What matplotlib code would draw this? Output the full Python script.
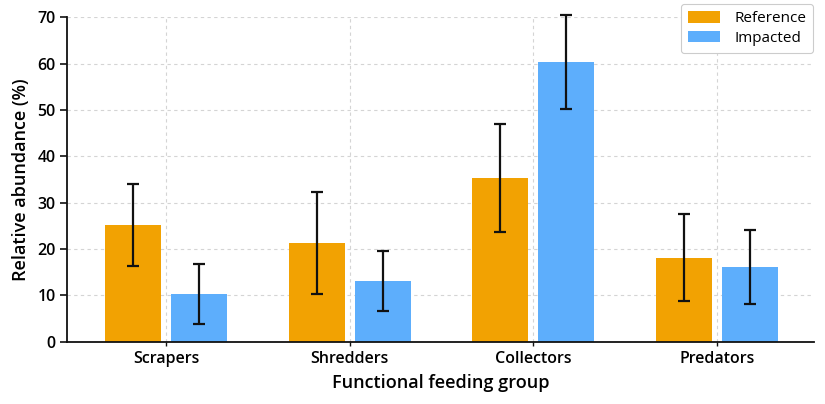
import matplotlib
matplotlib.use("Agg")
import matplotlib.pyplot as plt
import numpy as np

plt.rcParams['font.family'] = ['Open Sans', 'DejaVu Sans']

categories = ["Scrapers", "Shredders", "Collectors", "Predators"]
series_names = ["Reference", "Impacted"]
reference_vals = [25.2, 21.4, 35.3, 18.1]
reference_err = [8.8, 11.0, 11.6, 9.4]
impacted_vals = [10.3, 13.1, 60.3, 16.1]
impacted_err = [6.4, 6.5, 10.1, 7.9]
yticks = [0, 10, 20, 30, 40, 50, 60, 70]

col_ref = "#F2A202"
col_imp = "#5DAEFC"

fig = plt.figure(figsize=(8.25, 4.04), dpi=100)
ax = fig.add_axes([0.0808, 0.1542, 0.9059, 0.8029])

x = np.arange(len(categories))
off = 0.18
w = 0.305
ekw = dict(ecolor='#111111', elinewidth=1.6, capsize=4, capthick=1.6, zorder=3)
b1 = ax.bar(x - off, reference_vals, w, color=col_ref, label=series_names[0], zorder=2,
            yerr=reference_err, error_kw=ekw)
b2 = ax.bar(x + off, impacted_vals, w, color=col_imp, label=series_names[1], zorder=2,
            yerr=impacted_err, error_kw=ekw)
for cont in (b1, b2):
    for art in list(cont.errorbar.lines[1]) + list(cont.errorbar.lines[2]):
        art.set_clip_on(False)

ax.set_xlim(-0.542, 3.53)
ax.set_ylim(0, 70)
ax.set_yticks(yticks)
ax.set_xticks(x)
ax.set_xticklabels(categories, fontsize=11.5, fontweight='semibold')
for lab in ax.get_yticklabels():
    lab.set_fontsize(11.5)
    lab.set_fontweight('semibold')

ax.grid(True, linestyle=(0, (3, 3)), color='#d4d4d4', linewidth=0.8, zorder=0)
ax.set_axisbelow(True)
for s in ['top', 'right']:
    ax.spines[s].set_visible(False)
for s in ['left', 'bottom']:
    ax.spines[s].set_linewidth(1.3)
    ax.spines[s].set_color('#111111')
ax.tick_params(axis='y', length=5, width=1.2, color='#111111', pad=3)
ax.tick_params(axis='x', length=3, width=1.0, color='#111111', pad=4)

ax.set_xlabel("Functional feeding group", fontsize=13, fontweight='semibold', labelpad=5)
ax.set_ylabel("Relative abundance (%)", fontsize=13, fontweight='semibold', labelpad=5)

leg = ax.legend(loc='upper right', bbox_to_anchor=(813/825, 1 - 4/404), bbox_transform=fig.transFigure,
                borderaxespad=0, fontsize=11, frameon=True, fancybox=True, framealpha=1, edgecolor='#cccccc',
                handlelength=2.1, handleheight=0.8, borderpad=0.45, labelspacing=0.3, handletextpad=0.9)
leg.get_frame().set_linewidth(0.8)

fig.savefig("out.png", dpi=100)
